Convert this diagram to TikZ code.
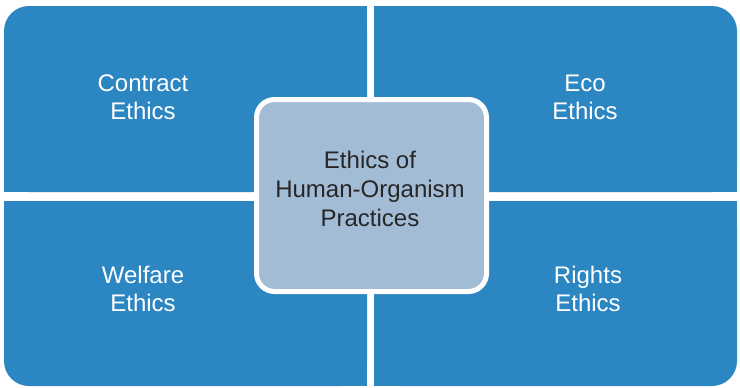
\documentclass[tikz,border=0pt]{standalone}
\usepackage{fontspec}
\setmainfont{Liberation Sans}
\definecolor{quadblue}{RGB}{43,134,194}
\definecolor{centerfill}{RGB}{163,188,214}
\definecolor{centertext}{RGB}{38,38,38}
\tikzset{
  quad/.style={fill=quadblue},
  qlabel/.style={text=white, align=center, font=\fontsize{24}{28}\selectfont, inner sep=0pt},
  centerbox/.style={draw=white, line width=5pt, fill=centerfill, rounded corners=18pt,
    minimum width=230pt, minimum height=192pt, inner sep=0pt},
  clabel/.style={align=center, inner sep=0pt, text=centertext, font=\fontsize{24}{29}\selectfont}
}
\begin{document}
\begin{tikzpicture}[x=1pt,y=-1pt]
\fill[white] (0,0) rectangle (740,388);
\useasboundingbox (0,0) rectangle (740,388);
% top-left
\fill[quad, rounded corners=25pt] (4,6) rectangle (367,192);
\fill[quad] (30,6) rectangle (367,192);
\fill[quad] (4,32) rectangle (367,192);
% top-right
\fill[quad, rounded corners=25pt] (374,6) rectangle (737,192);
\fill[quad] (374,6) rectangle (711,192);
\fill[quad] (374,32) rectangle (737,192);
% bottom-left
\fill[quad, rounded corners=25pt] (4,201) rectangle (367,386);
\fill[quad] (4,201) rectangle (367,360);
\fill[quad] (30,201) rectangle (367,386);
% bottom-right
\fill[quad, rounded corners=25pt] (374,201) rectangle (737,386);
\fill[quad] (374,201) rectangle (737,360);
\fill[quad] (374,201) rectangle (711,386);

\node[qlabel] (contract) at (143,97) {Contract\\Ethics};
\node[qlabel] (eco) at (585,97) {Eco\\Ethics};
\node[qlabel] (welfare) at (143,289) {Welfare\\Ethics};
\node[qlabel] (rights) at (588,289) {Rights\\Ethics};

\node[centerbox] (center) at (371.5,195.5) {};
\node[clabel] (centerlabel) at (370,189) {Ethics of\\Human-Organism\\Practices};
\end{tikzpicture}
\end{document}
